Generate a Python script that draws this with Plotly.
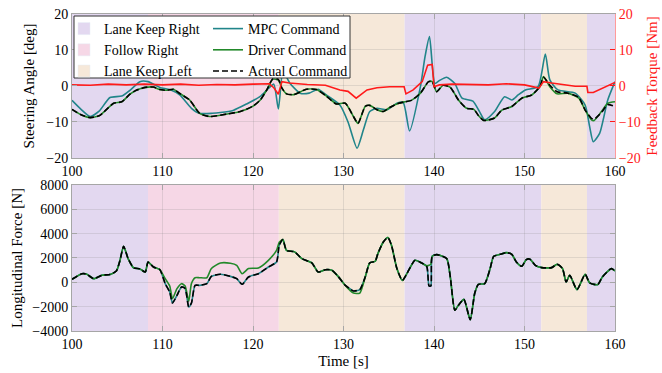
import plotly.graph_objects as go

# ---------------- data ----------------
region_labels = ["Lane Keep Right", "Follow Right", "Lane Keep Left",
                 "Lane Keep Right", "Lane Keep Left", "Lane Keep Right"]
region_starts = [100.0, 108.4, 122.85, 136.75, 151.85, 156.9]
region_ends = [108.4, 122.85, 136.75, 151.85, 156.9, 160.0]
region_colors = {"Lane Keep Right": "#e3d8f0", "Follow Right": "#f6d7e6", "Lane Keep Left": "#f6e8d9"}

# steering angle [deg]
mpc_t = [100, 101, 102, 103, 104.2, 105.5, 106.5, 107.5, 108.4, 109.7, 110.8, 111.9, 113.2, 114.1,
         115.5, 116.4, 117.8, 119.3, 120.8, 121.7, 122.3, 122.8, 123.3, 123.7, 124.1, 125.2, 126.2,
         127.2, 128.1, 129.6, 130.5, 131.5, 132.2, 132.9, 133.7, 134.8, 135.9, 136.6, 137.3, 138.5,
         139.0, 139.5, 140.1, 140.6, 141.4, 142.3, 143.1, 144.3, 145.0, 145.6, 146.7, 147.8, 148.6,
         149.3, 150.1, 151.5, 152.3, 152.8, 153.7, 155.6, 156.7, 157.2, 157.6, 158.3, 159.2, 160]
mpc_deg = [-4, -6.5, -8.5, -7, -3.2, -2.8, -1, 1.2, 1.2, -0.4, -1, -2.5, -6.2, -7.6,
           -7.6, -7.4, -6.8, -5, -2.9, -0.7, 0.5, -6.4, 4.3, 2.5, 0.7, -2, -2,
           -0.9, -2.5, -5.3, -10, -17.3, -12.2, -7.1, -6.2, -6.6, -4.8, -4.6, -12.5, -0.2,
           8, 13.7, 0.7, 1.5, 2.4, 0.7, -3.4, -4.2, -7, -9.4, -7.1, -3, -3.9,
           -2.5, -1.1, -0.2, 8.9, 1.7, -1.1, -2, -5.3, -11.3, -15.5, -13.2, -3.9, 1.2]

drv_t = [100, 101, 102, 103, 103.5, 104.6, 105.5, 106.4, 107.1, 108.1, 109, 109.7, 110.5, 111.2,
         111.9, 113, 114.1, 115.2, 117.1, 118.6, 120, 120.8, 121.5, 122.2, 122.8, 123.2, 123.7,
         124.5, 125.9, 127, 128.1, 129.2, 130.2, 131.1, 131.6, 132.4, 132.9, 133.7, 134.4, 135.1,
         136.1, 136.8, 137.5, 138.5, 139.4, 139.8, 140.3, 141, 141.8, 142.7, 143.6, 144.4, 144.9,
         145.5, 146.7, 147.5, 148.6, 149.7, 150.8, 151.7, 152.1, 152.8, 153.6, 154.8, 156, 156.7,
         157.4, 157.7, 158.5, 159.2, 160]
drv_deg = [-6.5, -8, -8.8, -8.3, -7.3, -4.8, -4.4, -2.3, -1.2, -0.4, -0.3, -1, -1.2, -0.9,
           -2.1, -3.9, -7.6, -8.5, -7.8, -7.1, -5.6, -3.9, -1.2, 1.9, 1.6, -0.6, -2.2,
           -2.4, -0.9, -1, -2.8, -5, -4.8, -8.5, -10.4, -5.7, -5.4, -6.6, -7.1, -6,
           -4.8, -4.4, -4, -2, 1.2, 1.2, -1.6, 0.2, -0.4, -3.9, -6.2, -6.5, -8.2,
           -9.6, -8.9, -6.7, -5.7, -3.4, -2.5, -0.2, 2.6, -0.2, -2.2, -2, -3.4, -6.7,
           -9.4, -9.6, -7.1, -4.8, -4.4]

act_deg = [-6.5, -8, -8.8, -8.3, -7.3, -4.8, -4.4, -2.3, -1.2, -0.4, -0.3, -1, -1.2, -0.9,
           -2.1, -3.9, -7.6, -8.5, -7.8, -7.1, -5.6, -3.9, -1.2, 2.0, 1.8, -0.6, -2.2,
           -2.4, -0.9, -1, -2.8, -5, -4.8, -8.5, -10.4, -5.7, -5.4, -6.6, -7.1, -6,
           -4.8, -4.4, -4, -2, 1.2, 1.2, -1.6, 0.2, -0.4, -3.9, -6.2, -6.5, -8.2,
           -9.6, -8.9, -6.7, -5.7, -3.4, -2.5, -0.2, 2.4, 0.2, -1.6, -2, -3.2, -6.7,
           -9.0, -9.2, -7.4, -5.2, -5.7]

# feedback torque [Nm]
trq_t = [100, 102, 104, 106, 108, 110, 112, 114, 116, 118, 120, 121.8, 122.3, 122.8, 123.2, 124,
         126, 128, 129.6, 130.5, 131.4, 132.6, 133.7, 135.1, 136.7, 136.9, 137.7, 138.7, 139.3,
         139.8, 140.0, 140.6, 142, 144, 146, 148, 150, 151.6, 152.1, 153, 155.6, 156.9, 157.0,
         157.6, 158.9, 160]
trq_nm = [0.3, 0.2, 0.5, 0.3, 0.5, 0.3, 0.5, 0.2, 0.4, 0.3, 0.5, 0.6, -0.5, -2.3, 1.2, 0.8,
          0.4, 0.2, -1.1, -1.5, -3.4, -1.1, -0.5, -0.2, -0.2, -2.2, -1.1, 1.2, 5.8,
          6.0, -0.2, 0.3, 0.5, 0.4, 0.3, 0.6, 0.3, -0.6, 1.2, 0.8, -0.1, -0.1, -1.8,
          -1.8, -0.2, 1.0]

# longitudinal force [N]
frc_t = [100, 101.1, 101.6, 102.4, 103.3, 104.2, 104.9, 105.3, 105.7, 106.2, 106.8, 107.5, 108.1,
         108.4, 109, 109.7, 110.3, 110.8, 111.1, 111.6, 112.1, 112.5, 112.9, 113.2, 113.6, 114.1,
         114.9, 115.4, 116.4, 117.5, 118.2, 118.8, 119.5, 120.6, 121.7, 122.6, 122.9, 123.3, 123.7,
         124.6, 125.4, 126.5, 127.2, 128, 128.7, 129.4, 130.2, 130.7, 131.1, 131.8, 132.4, 132.9,
         133.5, 133.8, 134.4, 134.9, 135.3, 135.9, 136.5, 137, 137.9, 138.6, 139.2, 139.45, 139.65,
         139.8, 140.3, 141.4, 141.8, 142.3, 142.7, 143.3, 144, 144.5, 144.9, 145.6, 146.2, 146.6,
         147.3, 148, 148.6, 149.1, 149.7, 150.2, 150.6, 151.2, 151.9, 153, 153.6, 154.2, 154.6,
         155, 155.8, 156.7, 157.2, 158.1, 158.6, 159.6, 160]
act_force = [250, 710, 680, 300, 580, 650, 930, 1800, 2960, 1950, 1200, 1100, 850,
             1670, 1260, 1050, -110, -800, -1700, -1070, -380, -500, -2030, -1700, -250, -250,
             -110, 490, 660, 490, 300, -160, 440, 710, 1260, 1670, 3050, 3510, 2630,
             2500, 1950, 1600, 850, 1040, 1000, 490, -250, -520, -710, -600, 440, 1600,
             1730, 2360, 3320, 3680, 3050, 1130, 160, 710, 1810, 1600, 1300, -300, -300,
             2140, 2280, 1950, 440, -2300, -1890, -1400, -3070, -900, -160, -110, 1130, 2140,
             2300, 2440, 2300, 1670, 1320, 1870, 1900, 1400, 1210, 1210, 1480, 1130, 25,
             580, -600, 660, -50, -190, 440, 1130, 930]
mpc_force = list(act_force)
drv_force = [250, 710, 680, 300, 580, 650, 930, 1800, 2960, 1950, 1200, 1100, 850,
             1670, 1260, 1050, 300, -300, -1340, -520, -110, -300, -1560, -100, 380, 380,
             380, 1130, 1590, 1570, 1400, 710, 1130, 1180, 1810, 2630, 3300, 3510, 2630,
             2500, 1950, 1600, 850, 1040, 1000, 490, -250, -650, -880, -880, 440, 1600,
             1730, 2360, 3320, 3680, 3050, 1130, 160, 710, 1810, 1600, 1360, 1400, 1500,
             2140, 2280, 1950, 440, -2300, -1890, -1400, -3070, -900, -160, -110, 1130, 2140,
             2300, 2440, 2300, 1670, 1320, 1870, 1900, 1400, 1210, 1210, 1480, 1130, 25,
             580, -600, 660, -50, -190, 440, 1130, 930]

x_ticks = [100, 110, 120, 130, 140, 150, 160]
steer_ticks = [-20, -10, 0, 10, 20]
force_ticks = [-4000, -2000, 0, 2000, 4000, 6000, 8000]

# ---------------- styling ----------------
FONT = "Liberation Serif"
TEAL = "#21858a"
GREEN = "#22892a"
RED = "#ff1a1a"
AXC = "#a6a6a6"
GRID = "rgba(120,120,120,0.18)"

fig = go.Figure()

# region patches (legend 1)
for lab in ["Lane Keep Right", "Follow Right", "Lane Keep Left"]:
    fig.add_trace(go.Bar(x=[None], y=[None], name=lab, marker=dict(color=region_colors[lab]),
                         xaxis="x", yaxis="y", showlegend=True, legend="legend"))

# top: steering commands (legend 2)
fig.add_trace(go.Scatter(x=mpc_t, y=mpc_deg, mode="lines", name="MPC Command", legend="legend2",
                         line=dict(color=TEAL, width=1.6, shape="spline", smoothing=0.6),
                         xaxis="x", yaxis="y"))
fig.add_trace(go.Scatter(x=drv_t, y=drv_deg, mode="lines", name="Driver Command", legend="legend2",
                         line=dict(color=GREEN, width=1.6, shape="spline", smoothing=0.6),
                         xaxis="x", yaxis="y"))
fig.add_trace(go.Scatter(x=drv_t, y=act_deg, mode="lines", name="Actual Command", legend="legend2",
                         line=dict(color="black", width=1.6, dash="6px,3px", shape="spline", smoothing=0.6),
                         xaxis="x", yaxis="y"))

fig.add_trace(go.Scatter(x=trq_t, y=trq_nm, mode="lines", name="Feedback Torque",
                         line=dict(color=RED, width=1.6), xaxis="x", yaxis="y2", showlegend=False))

# bottom: longitudinal force
fig.add_trace(go.Scatter(x=frc_t, y=mpc_force, mode="lines", showlegend=False,
                         line=dict(color=TEAL, width=1.6, shape="spline", smoothing=0.6),
                         xaxis="x2", yaxis="y3"))
fig.add_trace(go.Scatter(x=frc_t, y=drv_force, mode="lines", showlegend=False,
                         line=dict(color=GREEN, width=1.6, shape="spline", smoothing=0.6),
                         xaxis="x2", yaxis="y3"))
fig.add_trace(go.Scatter(x=frc_t, y=act_force, mode="lines", showlegend=False,
                         line=dict(color="black", width=1.6, dash="6px,3px", shape="spline", smoothing=0.6),
                         xaxis="x2", yaxis="y3"))

shapes = []
for s, e, lab in zip(region_starts, region_ends, region_labels):
    for xr, yr in (("x", "y domain"), ("x2", "y3 domain")):
        shapes.append(dict(type="rect", xref=xr, yref=yr, x0=s, x1=e, y0=0, y1=1,
                           fillcolor=region_colors[lab], line=dict(width=0), layer="below"))

# legend frame (paper coords: plot area spans 72..615 px horizontally, 14..331 px vertically)
def px_x(p):
    return (p - 72) / 543.0

def px_y(p):
    return (331 - p) / 317.0

shapes.append(dict(type="rect", xref="paper", yref="paper",
                   x0=px_x(74), x1=px_x(350), y0=px_y(16), y1=px_y(78),
                   fillcolor="white", line=dict(color="#333333", width=1), layer="above"))

tickfont = dict(family=FONT, size=14, color="black")
titlefont = dict(family=FONT, size=15, color="black")

xcommon = dict(range=[100, 160], tickvals=x_ticks, ticks="inside", ticklen=5, tickcolor=AXC,
               showline=True, linecolor=AXC, linewidth=1, mirror="ticks", showgrid=True,
               gridcolor=GRID, zeroline=False, tickfont=tickfont, automargin=False)

legcommon = dict(orientation="v", yanchor="top", xanchor="left", bgcolor="rgba(0,0,0,0)",
                 borderwidth=0, font=dict(family=FONT, size=14, color="black"),
                 itemwidth=30, traceorder="normal", tracegroupgap=0)

fig.update_layout(
    width=662, height=373,
    margin=dict(l=72, r=47, t=14, b=42, autoexpand=False),
    paper_bgcolor="white", plot_bgcolor="white",
    font=dict(family=FONT, size=14, color="black"),
    shapes=shapes,
    barmode="overlay",
    xaxis=dict(domain=[0, 1], anchor="y", **xcommon),
    yaxis=dict(domain=[0.546, 1], anchor="x", range=[-20, 20], tickvals=steer_ticks,
               ticks="inside", ticklen=5, tickcolor=AXC, showline=True, linecolor=AXC,
               showgrid=True, gridcolor=GRID, zeroline=False, tickfont=tickfont,
               title=dict(text="Steering Angle [deg]", font=titlefont, standoff=8), automargin=False),
    yaxis2=dict(overlaying="y", side="right", anchor="x", range=[-20, 20], tickvals=steer_ticks,
                ticks="inside", ticklen=5, tickcolor=RED, showline=True, linecolor="#ff9a9a",
                showgrid=False, zeroline=False, tickfont=dict(family=FONT, size=14, color=RED),
                title=dict(text="Feedback Torque [Nm]", font=dict(family=FONT, size=15, color=RED), standoff=6),
                automargin=False),
    xaxis2=dict(domain=[0, 1], anchor="y3",
                title=dict(text="Time [s]", font=titlefont, standoff=4), **xcommon),
    yaxis3=dict(domain=[0, 0.4606], anchor="x2", range=[-4000, 8000], tickvals=force_ticks,
                ticks="inside", ticklen=5, tickcolor=AXC, showline=True, linecolor=AXC, mirror="ticks",
                showgrid=True, gridcolor=GRID, zeroline=False, tickfont=tickfont,
                title=dict(text="Longitudinal Force [N]", font=titlefont, standoff=6), automargin=False),
    legend=dict(x=px_x(64), y=px_y(13), **legcommon),
    legend2=dict(x=px_x(208), y=px_y(13), **legcommon),
)

fig.write_html("out.html")
